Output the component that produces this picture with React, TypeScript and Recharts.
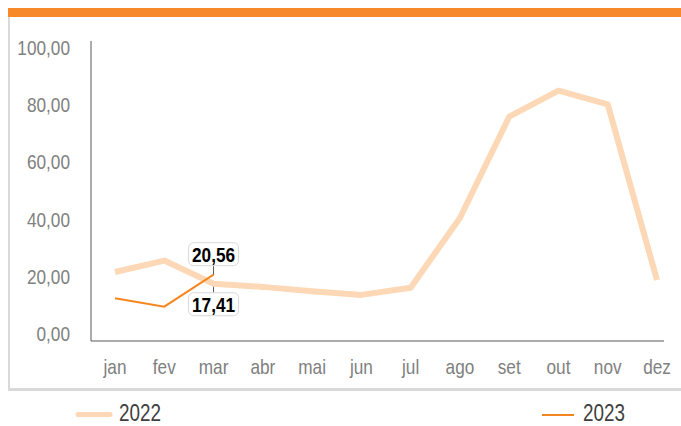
import { LineChart, Line, XAxis, YAxis, LabelList } from "recharts";

const months = ["jan", "fev", "mar", "abr", "mai", "jun", "jul", "ago", "set", "out", "nov", "dez"];
const values2022 = [21.5, 25.5, 17.41, 16.3, 14.8, 13.5, 16.0, 40.4, 75.8, 84.9, 80.1, 18.7];
const values2023 = [12.3, 9.4, 20.56];
const yTicks = [0, 20, 40, 60, 80, 100];

const data = months.map((m, i) => ({
  month: m,
  y2022: values2022[i],
  y2023: i < values2023.length ? values2023[i] : null,
}));

// narrow look: Liberation Sans squeezed horizontally
const FONT = "'Liberation Sans', Arial, sans-serif";
const SQ = 0.82;
const fmt = (v: number) => v.toFixed(2).replace(".", ",");

function NarrowText({ x, y, anchor, size, fill, weight, dy, children }: any) {
  return (
    <text
      transform={`translate(${x},${y}) scale(${SQ},1)`}
      textAnchor={anchor}
      dy={dy}
      fontFamily={FONT}
      fontSize={size}
      fontWeight={weight || "normal"}
      fill={fill}
    >
      {children}
    </text>
  );
}

function YTick(props: any) {
  const { x, y, payload } = props;
  return (
    <NarrowText x={x} y={y} anchor="end" size={21} fill="#808080" dy="0.355em">
      {fmt(payload.value)}
    </NarrowText>
  );
}

function XTick(props: any) {
  const { x, y, payload } = props;
  return (
    <NarrowText x={x} y={y} anchor="middle" size={21} fill="#808080" dy="0.71em">
      {payload.value}
    </NarrowText>
  );
}

// callout box for the last point of each series (only mar has one)
function Callout(props: any, above: boolean) {
  const { x, y, value, index } = props;
  if (index !== 2 || value == null) return null;
  const w = 50;
  const h = 23;
  const boxTop = above ? y - 32 : y + 9;
  const lead = above ? [y - 9, y] : [y + 3, y + 9];
  return (
    <g>
      <line x1={x} x2={x} y1={lead[0]} y2={lead[1]} stroke="#595959" strokeWidth={1} />
      <rect x={x - w / 2} y={boxTop} width={w} height={h} rx={5} fill="#fff" stroke="#d9d9d9" />
      <NarrowText x={x} y={boxTop + h / 2} anchor="middle" size={21} weight="bold" fill="#000" dy="0.36em">
        {fmt(value)}
      </NarrowText>
    </g>
  );
}

export default function App() {
  return (
    <div style={{ position: "absolute", left: 0, top: 0, width: 681, height: 426, background: "#fff" }}>
      <div style={{ position: "absolute", left: 8, top: 8, width: 673, height: 9, background: "#f7892a" }} />
      <div
        style={{
          position: "absolute",
          left: 8,
          top: 17,
          width: 673,
          height: 374,
          boxSizing: "border-box",
          borderLeft: "2px solid #d9d9d9",
          borderBottom: "3px solid #d9d9d9",
        }}
      />
      <div style={{ position: "absolute", left: 0, top: 0 }}>
        <LineChart width={681} height={381} data={data} margin={{ top: 41, right: 17, left: 0, bottom: 0 }}>
          <XAxis
            dataKey="month"
            padding={{ left: 24, right: 7 }}
            height={40}
            tickLine={false}
            tickSize={0}
            tickMargin={18}
            axisLine={{ stroke: "#595959" }}
            tick={<XTick />}
          />
          <YAxis
            type="number"
            domain={[-2.62, 102.27]}
            ticks={yTicks}
            width={91}
            tickLine={false}
            tickSize={0}
            tickMargin={21}
            axisLine={{ stroke: "#595959" }}
            tick={<YTick />}
          />
          <Line
            dataKey="y2022"
            stroke="#fdd8b6"
            strokeWidth={6}
            dot={false}
            strokeLinejoin="round"
            isAnimationActive={false}
          >
            <LabelList dataKey="y2022" content={(p: any) => Callout(p, false)} />
          </Line>
          <Line
            dataKey="y2023"
            stroke="#f5861f"
            strokeWidth={2}
            dot={false}
            connectNulls={false}
            isAnimationActive={false}
          >
            <LabelList dataKey="y2023" content={(p: any) => Callout(p, true)} />
          </Line>
        </LineChart>
      </div>
      {/* legend */}
      <svg width={681} height={30} style={{ position: "absolute", left: 0, top: 396 }}>
        <line x1={78} x2={110} y1={18.5} y2={18.5} stroke="#fdd8b6" strokeWidth={5} strokeLinecap="round" />
        <NarrowText x={119} y={17} anchor="start" size={23} fill="#404040" dy="0.36em">2022</NarrowText>
        <line x1={542} x2={574} y1={19} y2={19} stroke="#f5861f" strokeWidth={2} />
        <NarrowText x={583} y={17} anchor="start" size={23} fill="#404040" dy="0.36em">2023</NarrowText>
      </svg>
    </div>
  );
}
